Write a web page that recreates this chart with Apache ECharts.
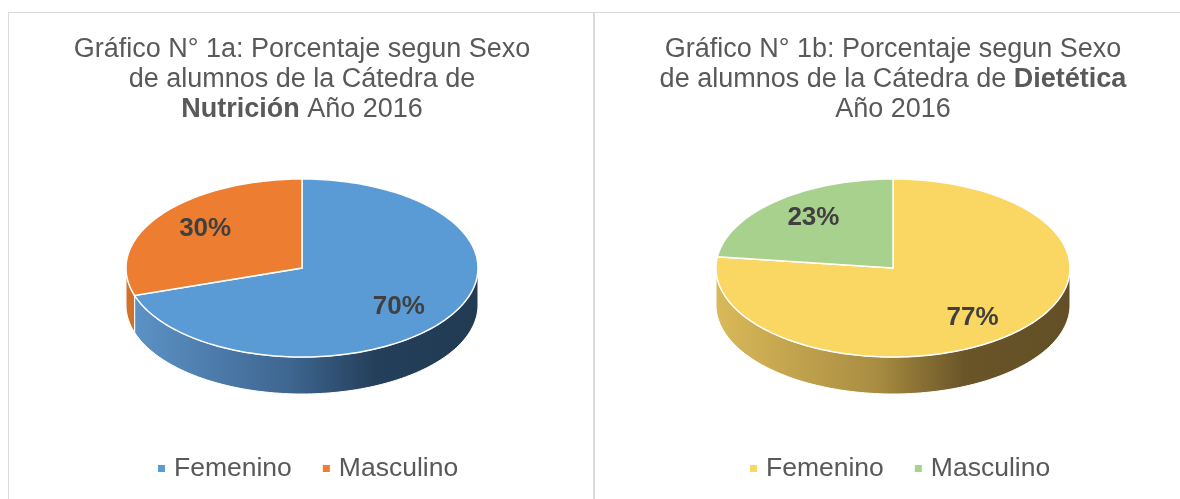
<!DOCTYPE html>
<html>
<head>
<meta charset="utf-8">
<script src="https://cdn.jsdelivr.net/npm/echarts@6/dist/echarts.min.js"></script>
<style>
  html, body { margin: 0; padding: 0; background: #fff; }
  #hoja { position: relative; width: 1180px; height: 499px; overflow: hidden; background: #fff; }
  .marco { position: absolute; border: 1px solid #d9d9d9; box-sizing: border-box; }
  .grafico { position: absolute; top: 0; height: 499px; }
</style>
</head>
<body>
<div id="hoja">
  <div class="marco" style="left:8px; top:12px; width:586px; height:520px;"></div>
  <div class="marco" style="left:594px; top:12px; width:600px; height:520px;"></div>
  <div id="graficoA" class="grafico" style="left:0; width:594px;"></div>
  <div id="graficoB" class="grafico" style="left:594px; width:586px;"></div>
</div>
<script>
// datos
var categorias = ['Femenino', 'Masculino'];
var nutricion = [70, 30];   // Grafico 1a
var dietetica = [77, 23];   // Grafico 1b

var FUENTE = '"Liberation Sans", Arial, sans-serif';
var PROFUNDIDAD = 37; // alto del costado del pastel 3D

function drawPie3D(id, cfg) {
  var chart = echarts.init(document.getElementById(id));
  var total = cfg.valores.reduce(function (s, v) { return s + v; }, 0);
  var acum = 0;
  var series = [];

  cfg.valores.forEach(function (v, i) {
    var ini = acum / total;
    acum += v;
    var fin = acum / total;
    series.push({
      name: categorias[i],
      type: 'custom',
      coordinateSystem: 'cartesian2d',
      itemStyle: { color: cfg.colores[i] },
      data: [[ini, fin, v]],
      renderItem: function (params, api) {
        var a = api.value(0), b = api.value(1);
        function punto(f, kx, ky) {
          var ang = f * 2 * Math.PI;
          return api.coord([kx * Math.sin(ang), ky * Math.cos(ang)]);
        }
        function arco(f0, f1) {
          var n = Math.max(2, Math.ceil((f1 - f0) * 240));
          var pts = [];
          for (var k = 0; k <= n; k++) pts.push(punto(f0 + (f1 - f0) * k / n, 1, 1));
          return pts;
        }
        var hijos = [];

        // costado visible (mitad frontal del pastel)
        var lo = Math.max(a, 0.25), hi = Math.min(b, 0.75);
        if (hi > lo) {
          var arriba = arco(lo, hi);
          var abajo = arriba.slice().reverse().map(function (p) { return [p[0], p[1] + PROFUNDIDAD]; });
          hijos.push({
            type: 'polygon',
            z2: 1,
            shape: { points: arriba.concat(abajo) },
            style: {
              fill: cfg.lados[i],
              stroke: '#fff',
              lineWidth: 1
            }
          });
        }

        // cara superior
        var centro = api.coord([0, 0]);
        hijos.push({
          type: 'polygon',
          z2: 10,
          shape: { points: [centro].concat(arco(a, b)) },
          style: { fill: cfg.colores[i], stroke: '#fff', lineWidth: 1.5 }
        });

        // etiqueta de porcentaje
        var m = (a + b) / 2;
        var pos = punto(m, 0.68, 0.75);
        hijos.push({
          type: 'text',
          z2: 20,
          x: pos[0],
          y: pos[1],
          style: {
            text: api.value(2) + '%',
            fill: '#404040',
            font: 'bold 26px ' + FUENTE,
            align: 'center',
            verticalAlign: 'middle'
          }
        });
        return { type: 'group', children: hijos };
      }
    });
  });

  var option = {
    animation: false,
    title: {
      text: cfg.titulo,
      left: cfg.cx,
      top: 35,
      padding: 0,
      textAlign: 'center',
      textStyle: {
        fontFamily: FUENTE,
        fontSize: 27,
        fontWeight: 'normal',
        color: '#595959',
        lineHeight: 30,
        rich: {
          b: { fontFamily: FUENTE, fontSize: 27, fontWeight: 'bold', color: '#595959', lineHeight: 30 }
        }
      }
    },
    legend: {
      data: categorias,
      left: cfg.legendaX,
      top: 455,
      padding: 0,
      icon: 'rect',
      itemWidth: 7,
      itemHeight: 7,
      itemGap: 31,
      selectedMode: false,
      textStyle: { fontFamily: FUENTE, fontSize: 26.5, color: '#595959', padding: [0, 0, 0, 4] }
    },
    grid: { left: cfg.cx - cfg.rx, top: 179, width: cfg.rx * 2, height: 178 },
    xAxis: { type: 'value', min: -1, max: 1, show: false },
    yAxis: { type: 'value', min: -1, max: 1, show: false },
    series: series
  };
  chart.setOption(option);
  return chart;
}

drawPie3D('graficoA', {
  valores: nutricion,
  titulo: 'Gráfico N° 1a: Porcentaje segun Sexo\nde alumnos de la Cátedra de\n{b|Nutrición} Año 2016',
  colores: ['#5B9BD5', '#ED7D31'],
  lados: [
    { type: 'linear', x: 0, y: 0, x2: 1, y2: 0, colorStops: [
      { offset: 0, color: '#5C92C6' }, { offset: 0.45, color: '#3E6690' },
      { offset: 0.7, color: '#243F5A' }, { offset: 1, color: '#223B53' }] },
    '#D2702C'
  ],
  cx: 302, rx: 176, legendaX: 158
});

drawPie3D('graficoB', {
  valores: dietetica,
  titulo: 'Gráfico N° 1b: Porcentaje segun Sexo\nde alumnos de la Cátedra de {b|Dietética}\nAño 2016',
  colores: ['#FAD662', '#A9D18E'],
  lados: [
    { type: 'linear', x: 0, y: 0, x2: 1, y2: 0, colorStops: [
      { offset: 0, color: '#DAB959' }, { offset: 0.45, color: '#A98D42' },
      { offset: 0.7, color: '#6A5528' }, { offset: 1, color: '#634F26' }] },
    '#94B87C'
  ],
  cx: 299, rx: 177, legendaX: 156
});
</script>
</body>
</html>
